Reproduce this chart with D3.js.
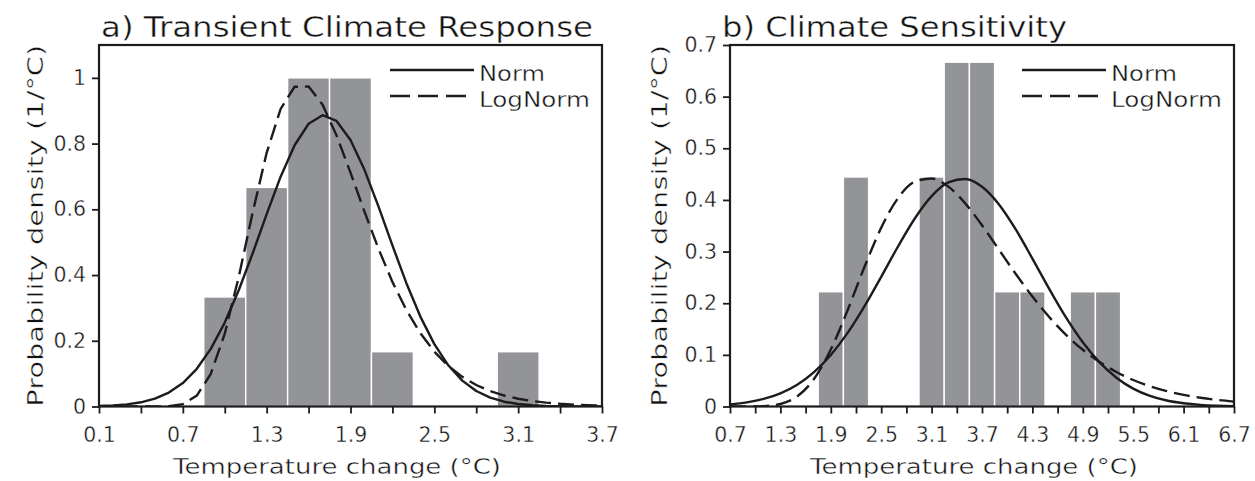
<!DOCTYPE html>
<html>
<head>
<meta charset="utf-8">
<script src="https://cdn.jsdelivr.net/npm/d3@7"></script>
<style>
  html, body { margin: 0; padding: 0; background: #fff; }
  svg { display: block; }
  text {
    font-family: "DejaVu Sans", sans-serif;
    fill: #111;
    stroke: #fff; stroke-width: 0.4px; paint-order: normal;
  }
</style>
</head>
<body>
<svg id="chart" width="1255" height="481"></svg>
<script>
// ---- Panel a: transient climate response ----
const tcrBinStart = [0.85, 1.15, 1.45, 1.75, 2.05, 2.95];
const tcrDensity  = [0.3333, 0.6667, 1.0, 1.0, 0.1667, 0.1667];
const tcrX = [0.1,0.2,0.3,0.4,0.5,0.6,0.7,0.8,0.9,1.0,1.1,1.2,1.3,1.4,1.5,1.6,1.7,1.8,1.9,
              2.0,2.1,2.2,2.3,2.4,2.5,2.6,2.7,2.8,2.9,3.0,3.1,3.2,3.3,3.4,3.5,3.6,3.7];
const tcrNorm = [0.0015,0.0032,0.0066,0.0128,0.0239,0.0423,0.0714,0.1147,0.1754,0.2553,0.3537,
                 0.4664,0.5854,0.6993,0.7950,0.8604,0.8863,0.8689,0.8109,0.7202,0.6089,0.4901,
                 0.3753,0.2736,0.1899,0.1254,0.0788,0.0472,0.0269,0.0146,0.0075,0.0037,0.0017,
                 0.0008,0.0003,0.0001,0.0000];
const tcrLogNorm = [0,0,0,0,0.0001,0.0009,0.0073,0.0331,0.0992,0.2214,0.3942,0.5904,0.7720,
                    0.9054,0.9730,0.9735,0.9183,0.8250,0.7115,0.5932,0.4801,0.3792,0.2935,
                    0.2230,0.1670,0.1234,0.0902,0.0653,0.0469,0.0334,0.0237,0.0167,0.0117,
                    0.0082,0.0057,0.0040,0.0028];
const tcrXTicks = [0.1,0.4,0.7,1.0,1.3,1.6,1.9,2.2,2.5,2.8,3.1,3.4,3.7];
const tcrXLabels = ["0.1","0.7","1.3","1.9","2.5","3.1","3.7"];
const tcrYTicks = [0, 0.2, 0.4, 0.6, 0.8, 1];
const tcrYLabels = ["0", "0.2", "0.4", "0.6", "0.8", "1"];

// ---- Panel b: equilibrium climate sensitivity ----
const ecsBinStart = [1.75, 2.05, 2.95, 3.25, 3.55, 3.85, 4.15, 4.75, 5.05];
const ecsDensity  = [0.2222, 0.4444, 0.4444, 0.6667, 0.6667, 0.2222, 0.2222, 0.2222, 0.2222];
const ecsX = [0.7,0.9,1.1,1.3,1.5,1.7,1.9,2.1,2.3,2.5,2.7,2.9,3.1,3.3,3.5,3.7,3.9,4.1,4.3,
              4.5,4.7,4.9,5.1,5.3,5.5,5.7,5.9,6.1,6.3,6.5,6.7];
const ecsNorm = [0.0042,0.0081,0.0147,0.0255,0.0422,0.0665,0.0998,0.1425,0.1939,0.2511,0.3098,
                 0.3640,0.4073,0.4340,0.4404,0.4255,0.3917,0.3433,0.2865,0.2278,0.1724,0.1243,
                 0.0853,0.0558,0.0347,0.0206,0.0116,0.0063,0.0032,0.0016,0.0007];
const ecsLogNorm = [0.0000,0.0000,0.0007,0.0049,0.0195,0.0532,0.1104,0.1865,0.2700,0.3462,0.4035,
                    0.4354,0.4416,0.4257,0.3934,0.3510,0.3041,0.2571,0.2129,0.1732,0.1388,0.1098,
                    0.0860,0.0667,0.0513,0.0392,0.0298,0.0225,0.0170,0.0127,0.0095];
const ecsXTicks = [0.7,1.0,1.3,1.6,1.9,2.2,2.5,2.8,3.1,3.4,3.7,4.0,4.3,4.6,4.9,5.2,5.5,5.8,6.1,6.4,6.7];
const ecsXLabels = ["0.7","1.3","1.9","2.5","3.1","3.7","4.3","4.9","5.5","6.1","6.7"];
const ecsYTicks = [0, 0.1, 0.2, 0.3, 0.4, 0.5, 0.6, 0.7];
const ecsYLabels = ["0", "0.1", "0.2", "0.3", "0.4", "0.5", "0.6", "0.7"];

const binWidth = 0.3;
const seriesNames = ["Norm", "LogNorm"];

const svg = d3.select("#chart");
const INK = "#1c1c1c";
const BAR = "#939498";

function drawPanel(cfg) {
  const x = d3.scaleLinear().domain(cfg.xDomain).range([cfg.left, cfg.right]);
  const y = d3.scaleLinear().domain(cfg.yDomain).range([cfg.bottom, cfg.top]);
  const g = svg.append("g");

  const clipId = "clip-" + cfg.id;
  g.append("clipPath").attr("id", clipId)
    .append("rect")
    .attr("x", cfg.left).attr("y", cfg.top)
    .attr("width", cfg.right - cfg.left).attr("height", cfg.bottom - cfg.top);

  // histogram bars
  g.append("g").selectAll("rect")
    .data(cfg.binStart.map((s, i) => ({ lo: s, hi: s + binWidth, v: cfg.density[i] })))
    .join("rect")
    .attr("x", d => x(d.lo))
    .attr("width", d => x(d.hi) - x(d.lo))
    .attr("y", d => y(d.v))
    .attr("height", d => y(0) - y(d.v))
    .attr("fill", BAR)
    .attr("stroke", "#fff")
    .attr("stroke-width", 1.4);

  // fitted curves
  const line = d3.line()
    .x(d => x(d[0])).y(d => y(d[1]))
    .curve(cfg.curve);
  const curves = g.append("g").attr("clip-path", `url(#${clipId})`);
  curves.append("path")
    .attr("d", line(cfg.xs.map((v, i) => [v, cfg.norm[i]])))
    .attr("fill", "none").attr("stroke", INK).attr("stroke-width", 2.4)
    .attr("stroke-linejoin", "round");
  curves.append("path")
    .attr("d", line(cfg.xs.map((v, i) => [v, cfg.logNorm[i]])))
    .attr("fill", "none").attr("stroke", INK).attr("stroke-width", 2.4)
    .attr("stroke-dasharray", "16,7");

  // x axis
  const xAxis = d3.axisBottom(x)
    .tickValues(cfg.xTicks)
    .tickSize(7)
    .tickFormat(d => {
      const s = d3.format(".1f")(d);
      return cfg.xLabels.includes(s) ? s : "";
    });
  const gx = g.append("g").attr("transform", `translate(0,${cfg.bottom})`).call(xAxis);
  gx.select(".domain").remove();
  gx.selectAll(".tick line").attr("stroke", INK).attr("stroke-width", 1.8);
  gx.selectAll(".tick text")
    .attr("y", 21).attr("dy", "0.71em")
    .style("font-size", "20.5px").style("font-family", "DejaVu Sans").attr("fill", "#111");

  // y axis
  const yAxis = d3.axisLeft(y)
    .tickValues(cfg.yTicks)
    .tickSize(7)
    .tickFormat((d, i) => cfg.yLabels[i]);
  const gy = g.append("g").attr("transform", `translate(${cfg.left},0)`).call(yAxis);
  gy.select(".domain").remove();
  gy.selectAll(".tick line").attr("stroke", INK).attr("stroke-width", 1.8);
  gy.selectAll(".tick text")
    .attr("x", -13)
    .style("font-size", "20.5px").style("font-family", "DejaVu Sans").attr("fill", "#111");

  // frame
  g.append("rect")
    .attr("x", cfg.left).attr("y", cfg.top)
    .attr("width", cfg.right - cfg.left).attr("height", cfg.bottom - cfg.top)
    .attr("fill", "none").attr("stroke", INK).attr("stroke-width", 2.2);

  // panel title
  g.append("text")
    .attr("x", cfg.titleX).attr("y", 37)
    .attr("textLength", cfg.titleLen).attr("lengthAdjust", "spacingAndGlyphs")
    .style("font-size", "29px")
    .text(cfg.title);

  // axis titles
  g.append("text")
    .attr("x", cfg.xTitleX).attr("y", 474)
    .attr("text-anchor", "middle")
    .attr("textLength", 328).attr("lengthAdjust", "spacingAndGlyphs")
    .style("font-size", "21px")
    .text("Temperature change (°C)");
  g.append("text")
    .attr("transform", `translate(${cfg.yTitleX},${(cfg.top + cfg.bottom) / 2}) rotate(-90)`)
    .attr("text-anchor", "middle")
    .attr("textLength", 362).attr("lengthAdjust", "spacingAndGlyphs")
    .style("font-size", "21px")
    .text("Probability density (1/°C)");

  // legend
  const lg = g.append("g");
  seriesNames.forEach((name, i) => {
    const ly = 70 + i * 26;
    lg.append("line")
      .attr("x1", cfg.legendX).attr("x2", cfg.legendX + 84)
      .attr("y1", ly).attr("y2", ly)
      .attr("stroke", INK).attr("stroke-width", 2.4)
      .attr("stroke-dasharray", i === 1 ? "20,8" : null);
    lg.append("text")
      .attr("x", cfg.legendX + 89).attr("y", ly + 11)
      .attr("textLength", i === 0 ? 66 : 111).attr("lengthAdjust", "spacingAndGlyphs")
      .style("font-size", "22px")
      .text(name);
  });
}

drawPanel({
  id: "tcr", left: 99, right: 602, top: 45, bottom: 406.5,
  xDomain: [0.1, 3.7], yDomain: [0, 1.1],
  binStart: tcrBinStart, density: tcrDensity,
  xs: tcrX, norm: tcrNorm, logNorm: tcrLogNorm, curve: d3.curveLinear,
  xTicks: tcrXTicks, xLabels: tcrXLabels, yTicks: tcrYTicks, yLabels: tcrYLabels,
  title: "a) Transient Climate Response", titleX: 101, titleLen: 492,
  xTitleX: 337, yTitleX: 43, legendX: 390
});

drawPanel({
  id: "ecs", left: 730, right: 1234, top: 45, bottom: 406.5,
  xDomain: [0.7, 6.7], yDomain: [0, 0.7],
  binStart: ecsBinStart, density: ecsDensity,
  xs: ecsX, norm: ecsNorm, logNorm: ecsLogNorm, curve: d3.curveMonotoneX,
  xTicks: ecsXTicks, xLabels: ecsXLabels, yTicks: ecsYTicks, yLabels: ecsYLabels,
  title: "b) Climate Sensitivity", titleX: 722, titleLen: 345,
  xTitleX: 974, yTitleX: 667, legendX: 1022
});
</script>
</body>
</html>
